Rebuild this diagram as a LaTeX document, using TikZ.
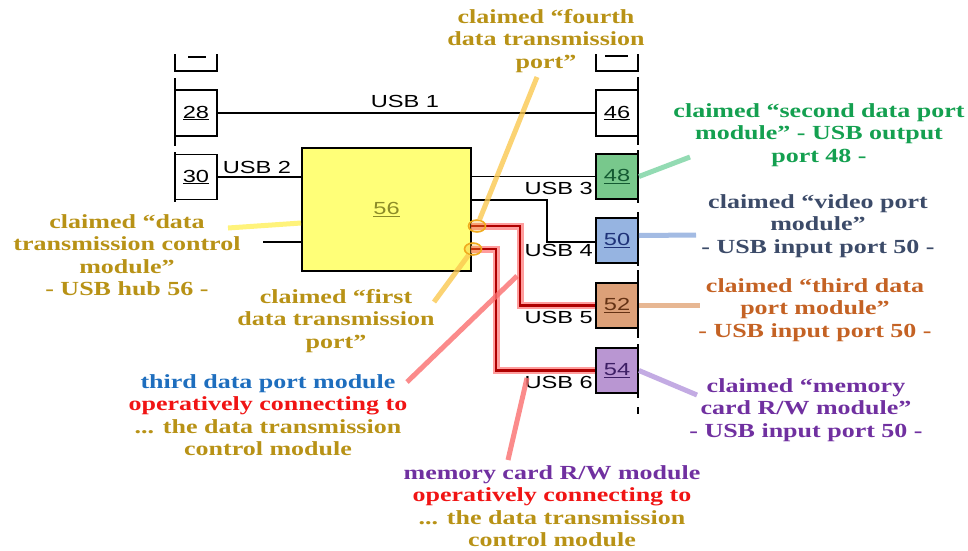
\documentclass[tikz,border=0pt]{standalone}
\usepackage{fontspec}
\usetikzlibrary{shapes.geometric}
\newfontfamily\lblfont{Liberation Serif}[FakeStretch=1.3]
\newfontfamily\usbfont{Liberation Sans}[FakeStretch=1.35]
\definecolor{tgold}{RGB}{184,146,22}
\definecolor{tgreen}{RGB}{20,160,80}
\definecolor{tslate}{RGB}{60,75,105}
\definecolor{torange}{RGB}{196,98,36}
\definecolor{tpurple}{RGB}{112,48,160}
\definecolor{tblue}{RGB}{30,110,190}
\definecolor{tred}{RGB}{240,20,20}
\definecolor{fyellow}{RGB}{255,255,120}
\definecolor{fgreen}{RGB}{120,200,140}
\definecolor{fblue}{RGB}{150,180,225}
\definecolor{ftan}{RGB}{220,160,120}
\definecolor{fpurple}{RGB}{185,150,210}
\definecolor{nolive}{RGB}{140,140,40}
\definecolor{ngreen}{RGB}{20,90,50}
\definecolor{nblue}{RGB}{30,50,120}
\definecolor{nbrown}{RGB}{100,50,20}
\definecolor{npurple}{RGB}{60,30,100}
\definecolor{pyellow}{RGB}{255,240,90}
\definecolor{porange}{RGB}{250,200,80}
\definecolor{pred}{RGB}{250,110,110}
\definecolor{pgreen}{RGB}{120,210,160}
\definecolor{pblue}{RGB}{140,170,220}
\definecolor{ptan}{RGB}{225,165,120}
\definecolor{ppurple}{RGB}{180,150,220}
\definecolor{wred}{RGB}{175,0,0}
\definecolor{wpink}{RGB}{255,140,140}
\definecolor{corange}{RGB}{240,170,30}
\begin{document}
\begin{tikzpicture}[x=1pt,y=-1pt,
  box/.style={draw=black, line width=1.9pt, minimum width=42pt, minimum height=45pt, inner sep=0pt,
    font=\usbfont\fontsize{17.5}{20}\selectfont},
  wire/.style={line width=1.8pt},
  usb/.style={font=\usbfont\fontsize{17.5}{20}\selectfont, inner sep=0pt},
  lbl/.style={font=\lblfont\bfseries\fontsize{20}{22.5}\selectfont, align=center, inner sep=0pt},
  ptr/.style={line width=5pt, opacity=0.8},
  redwire/.style={draw=wred, line width=2.6pt, preaction={draw=wpink, line width=7pt, opacity=0.85}},
  portmark/.style={ellipse, draw=corange, line width=1.6pt, fill=corange, fill opacity=0.3,
    minimum width=17pt, minimum height=12pt, inner sep=0pt}
]
\useasboundingbox (0,0) rectangle (968,550);

% left bars and partial box
\draw[wire] (175,54) -- (175,71) -- (217,71) -- (217,54);
\draw[wire] (188,57) -- (206,57);
\draw[wire] (175,78) -- (175,146);
\draw[wire] (175,152) -- (175,202);
% right bars and partial box
\draw[wire] (596,54) -- (596,71) -- (638,71) -- (638,54);
\draw[wire] (605,56) -- (628,56);
\draw[wire] (638,77) -- (638,145);
\draw[wire] (638,150) -- (638,203);
\draw[wire] (638,212) -- (638,266);
\draw[wire] (638,270) -- (638,338);
\draw[wire] (638,344) -- (638,398);
\draw[wire] (638,407) -- (638,414);

% boxes
\node[box, minimum height=46pt] (b28) at (196,113) {\underline{28}};
\node[box] (b30) at (196,177) {\underline{30}};
\node[box, fill=fyellow, line width=2pt, minimum width=169pt, minimum height=123pt, text=nolive] (b56) at (386.5,209.5) {\underline{56}};
\node[box, minimum height=46pt] (b46) at (617,113) {\underline{46}};
\node[box, fill=fgreen, text=ngreen] (b48) at (617,176.5) {\underline{48}};
\node[box, fill=fblue, text=nblue] (b50) at (617,240.5) {\underline{50}};
\node[box, fill=ftan, text=nbrown] (b52) at (617,305.5) {\underline{52}};
\node[box, fill=fpurple, text=npurple] (b54) at (617,370.5) {\underline{54}};

% black wires
\draw[wire] (b28.east) -- (b46.west);
\draw[wire] (b30.east) -- (b30.east -| b56.west);
\draw[wire] (b48.west -| b56.east) -- (b48.west);
\coordinate (u4a) at (471,200);
\coordinate (u4b) at (547,200);
\coordinate (u4c) at (547,242);
\draw[wire] (u4a) -- (u4b) -- (u4c) -- (u4c -| b50.west);
\coordinate (stub) at (263,242);
\draw[wire] (stub) -- (stub -| b56.west);

% red wires
\coordinate (r5a) at (471,226);
\coordinate (r5b) at (520,226);
\coordinate (r5c) at (520,305.5);
\draw[redwire] (r5a) -- (r5b) -- (r5c) -- (b52.west);
\coordinate (r6a) at (471,249);
\coordinate (r6b) at (496,249);
\coordinate (r6c) at (496,370.5);
\draw[redwire] (r6a) -- (r6b) -- (r6c) -- (b54.west);

% port marks
\node[portmark] (c1) at (477,226) {};
\node[portmark] (c2) at (473,249) {};

% USB labels
\node[usb] (usb1) at (405,101) {USB 1};
\node[usb] (usb2) at (257,167) {USB 2};
\node[usb, anchor=east] (usb3) at (593,188) {USB 3};
\node[usb, anchor=east] (usb4) at (593,250) {USB 4};
\node[usb, anchor=east] (usb5) at (593,317) {USB 5};
\node[usb, anchor=east] (usb6) at (593,382) {USB 6};

% annotation texts
\node[lbl, text=tgold] (t4) at (546,41) {claimed “fourth\\data transmission\\port”};
\node[lbl, text=tgold] (thub) at (127,255) {claimed “data\\transmission control\\module”\\- USB hub 56 -};
\node[lbl, text=tgold] (t1) at (336,321) {claimed “first\\data transmission\\port”};
\node[lbl] (t3) at (268,415) {\textcolor{tblue}{third data port module}\\\textcolor{tred}{operatively connecting to}\\\textcolor{tgold}{... the data transmission}\\\textcolor{tgold}{control module}};
\node[lbl] (tm) at (552,506) {\textcolor{tpurple}{memory card R/W module}\\\textcolor{tred}{operatively connecting to}\\\textcolor{tgold}{... the data transmission}\\\textcolor{tgold}{control module}};
\node[lbl, text=tgreen] (t48) at (819,135) {claimed “second data port\\module” - USB output\\port 48 -};
\node[lbl, text=tslate] (t50) at (818,226) {claimed “video port\\module”\\- USB input port 50 -};
\node[lbl, text=torange] (t52) at (815,310) {claimed “third data\\port module”\\- USB input port 50 -};
\node[lbl, text=tpurple] (t54) at (806,410) {claimed “memory\\card R/W module”\\- USB input port 50 -};

% pointer lines
\coordinate (phub) at (228,228);
\draw[ptr, pyellow] (phub) -- (b56.west |- 0,223);
\coordinate (p4) at (537,77);
\draw[ptr, porange] (p4) -- (c1);
\coordinate (p1) at (434,302);
\draw[ptr, porange] (c2) -- (p1);
\coordinate (q3a) at (407,382);
\coordinate (q3b) at (517,276);
\draw[ptr, pred] (q3a) -- (q3b);
\coordinate (qma) at (527,378);
\coordinate (qmb) at (508,460);
\draw[ptr, pred] (qma) -- (qmb);
\coordinate (pg) at (690,157);
\draw[ptr, pgreen] (b48.east) -- (pg);
\coordinate (pb) at (696,235);
\draw[ptr, pblue] ([yshift=5pt]b50.east) -- (pb);
\coordinate (po) at (700,305.5);
\draw[ptr, ptan] (b52.east) -- (po);
\coordinate (pp) at (697,395);
\draw[ptr, ppurple] (b54.east) -- (pp);
\end{tikzpicture}
\end{document}
